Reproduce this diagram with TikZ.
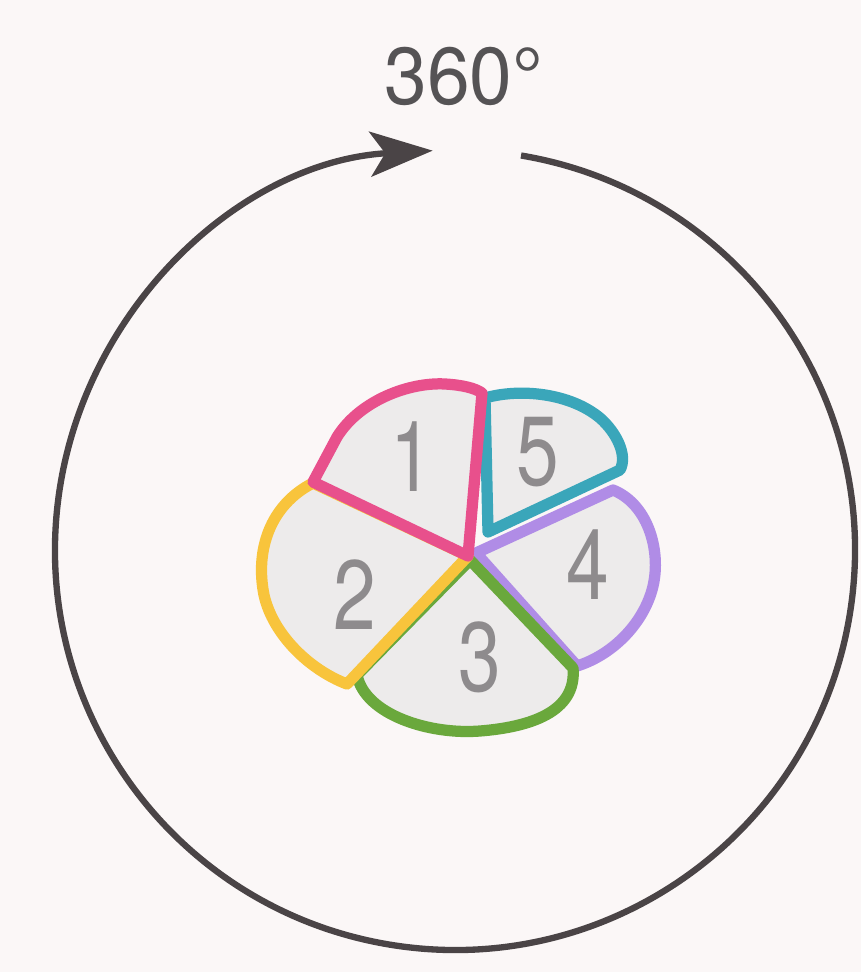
\documentclass[tikz,border=0pt]{standalone}
\usepackage{fontspec}
\setmainfont{TeX Gyre Heros}
\usetikzlibrary{arrows.meta}
\definecolor{bgc}{HTML}{FBF7F7}
\definecolor{ink}{HTML}{4A4446}
\definecolor{txt}{HTML}{555355}
\definecolor{numc}{HTML}{8E8B8D}
\definecolor{piefill}{HTML}{EDEBEB}
\definecolor{cpink}{HTML}{E8508C}
\definecolor{cyellow}{HTML}{F8C43C}
\definecolor{cgreen}{HTML}{6AA83C}
\definecolor{cpurple}{HTML}{B08CE6}
\definecolor{cteal}{HTML}{3AA6BA}
\tikzset{
  sector/.style={fill=piefill, line width=6.4pt, line join=round, line cap=round},
  num/.style={text=numc, font=\fontsize{56}{56}\selectfont, xscale=0.78, inner sep=0pt},
}
\begin{document}
\begin{tikzpicture}[x=0.02cm,y=-0.02cm]
\fill[bgc] (0,0) rectangle (861,972);
\useasboundingbox (0,0) rectangle (861,972);

% big circle with arrow
\coordinate (cc) at (455,550);
\draw[ink, line width=3.6pt, -{Stealth[length=1.25cm,width=0.9cm,inset=0.3cm]}]
  (cc) ++(-80.5:400) arc[start angle=-80.5, end angle=266.8, radius=400];
\node[text=txt, font=\fontsize{46}{46}\selectfont, anchor=base west, inner sep=0pt, xscale=0.95] (lbl) at (384,105) {360°};

% pie sectors
\coordinate (c) at (468,556);
\draw[sector, draw=cpurple] (476,553) -- (613,490) .. controls (650,505) and (662,555) .. (652,590)
   .. controls (642,625) and (612,655) .. (577,666) -- cycle;
\draw[sector, draw=cgreen] (470,560) -- (357,675) .. controls (365,715) and (430,735) .. (480,731)
   .. controls (530,727) and (577,712) .. (573,668) -- cycle;
\draw[sector, draw=cyellow] (c) -- (313,483) .. controls (270,505) and (255,550) .. (264,595)
   .. controls (273,635) and (310,670) .. (347,684) -- cycle;
\draw[sector, draw=cteal] (488,532) -- (485,398) .. controls (520,388) and (570,393) .. (600,418)
   .. controls (616,432) and (628,455) .. (620,470) -- cycle;
\draw[sector, draw=cpink] (c) -- (313,482) -- (337,437) .. controls (360,400) and (410,382) .. (445,384)
   .. controls (462,385) and (475,388) .. (482,393) -- cycle;

% numbers
\node[num] (n1) at (412,457) {1};
\node[num] (n5) at (538,452) {5};
\node[num] (n2) at (355,595) {2};
\node[num] (n3) at (480,657) {3};
\node[num] (n4) at (588,565) {4};
\end{tikzpicture}
\end{document}
